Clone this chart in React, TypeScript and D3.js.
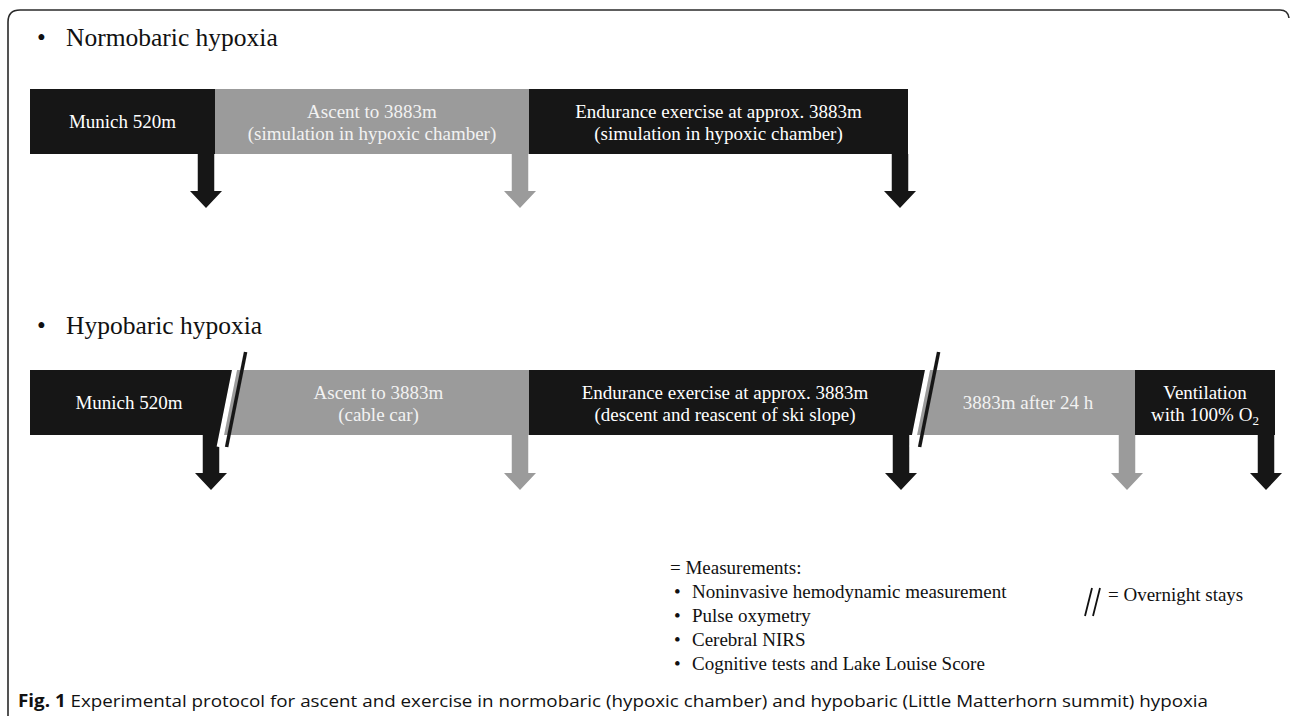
import React from "react";
import * as d3 from "d3";

const W = 1290;
const H = 716;

// Normobaric protocol (timeline units)
const normLabels = ["Munich 520m", "Ascent to 3883m", "Endurance exercise at approx. 3883m"];
const normNotes = ["", "(simulation in hypoxic chamber)", "(simulation in hypoxic chamber)"];
const normEnds = [185, 499, 878];
const normTones = ["dark", "light", "dark"];
const normBreaks: number[] = [];
const normMeasure = [176, 490, 870];
const normMeasureTones = ["dark", "light", "dark"];

// Hypobaric protocol (timeline units)
const hypoLabels = ["Munich 520m", "Ascent to 3883m", "Endurance exercise at approx. 3883m", "3883m after 24 h", "Ventilation"];
const hypoNotes = ["", "(cable car)", "(descent and reascent of ski slope)", "", "with 100% O"];
const hypoEnds = [198, 499, 891, 1105, 1245];
const hypoTones = ["dark", "light", "dark", "light", "dark"];
const hypoBreaks = [198, 891];
const hypoMeasure = [181, 490, 871, 1097, 1236];
const hypoMeasureTones = ["dark", "light", "dark", "light", "dark"];

const measurementItems = [
  "Noninvasive hemodynamic measurement",
  "Pulse oxymetry",
  "Cerebral NIRS",
  "Cognitive tests and Lake Louise Score",
];

const DARK = "#161616";
const LIGHT = "#9b9b9b";
const SERIF = "'Liberation Serif', 'Times New Roman', serif";
const SLANT = -0.2;

const x = d3.scaleLinear().domain([0, 1245]).range([30, 1275]);

function Row(props: {
  labels: string[]; notes: string[]; ends: number[]; tones: string[]; breaks: number[];
  measure: number[]; mtones: string[]; top: number; tip: number; subLast?: boolean;
}) {
  const { labels, notes, ends, tones, breaks, measure, mtones, top, tip, subLast } = props;
  const bh = 65;
  const bot = top + bh;
  const yc = top + bh / 2;
  const edge = (v: number, y: number, slanted: boolean) => x(v) + (slanted ? SLANT * (y - yc) : 0);
  const isBreak = (v: number) => breaks.includes(v);
  return (
    <g>
      {labels.map((lab, i) => {
        const s = i === 0 ? 0 : ends[i - 1];
        const e = ends[i];
        const sb = i > 0 && isBreak(s);
        const eb = isBreak(e);
        const pts = [
          [edge(s, top, sb), top], [edge(e, top, eb), top],
          [edge(e, bot, eb), bot], [edge(s, bot, sb), bot],
        ];
        const fill = tones[i] === "dark" ? DARK : LIGHT;
        const tcol = tones[i] === "dark" ? "#ffffff" : "#f2f2f2";
        const cx = (x(s) + x(e)) / 2;
        const hasNote = notes[i] !== "";
        return (
          <g key={i}>
            <polygon points={pts.map((p) => p.join(",")).join(" ")} fill={fill} />
            {hasNote ? (
              <text x={cx} textAnchor="middle" fill={tcol} fontFamily={SERIF} fontSize={19}>
                <tspan x={cx} y={yc - 4}>{lab}</tspan>
                <tspan x={cx} y={yc + 18}>
                  {notes[i]}
                  {subLast && i === labels.length - 1 ? <tspan fontSize={13} dy={4}>2</tspan> : null}
                </tspan>
              </text>
            ) : (
              <text x={cx} y={yc + 6} textAnchor="middle" fill={tcol} fontFamily={SERIF} fontSize={19}>{lab}</text>
            )}
          </g>
        );
      })}
      {measure.map((m, i) => {
        const c = x(m);
        const sw = 16.5, hw = 32, hh = 17;
        const fill = mtones[i] === "dark" ? DARK : LIGHT;
        const d = `M${c - sw / 2},${bot} L${c + sw / 2},${bot} L${c + sw / 2},${tip - hh} L${c + hw / 2},${tip - hh} L${c},${tip} L${c - hw / 2},${tip - hh} L${c - sw / 2},${tip - hh} Z`;
        return <path key={"m" + i} d={d} fill={fill} />;
      })}
      {breaks.map((b, i) => {
        const y1 = top - 18, y2 = bot + 12;
        return (
          <g key={"b" + i}>
            <line x1={edge(b, y1, true)} y1={y1} x2={edge(b, y2, true)} y2={y2} stroke="#ffffff" strokeWidth={5} />
            <line x1={edge(b, y1, true) + 7.5} y1={y1} x2={edge(b, y2, true) + 7.5} y2={y2} stroke={DARK} strokeWidth={3.5} />
          </g>
        );
      })}
    </g>
  );
}

export default function App() {
  return (
    <svg width={W} height={H} style={{ position: "absolute", left: 0, top: 0, background: "#fff" }}>
      <rect x={0} y={0} width={W} height={H} fill="#ffffff" />
      <path d="M8,720 L8,22 Q8,10 20,10 L1280,10 Q1288,10 1289,18" fill="none" stroke="#2a2a2a" strokeWidth={1.6} />

      <text x={37} y={46} fontFamily={SERIF} fontSize={25} fill="#111">•</text>
      <text x={66} y={46} fontFamily={SERIF} fontSize={25.5} fill="#111">Normobaric hypoxia</text>

      <Row labels={normLabels} notes={normNotes} ends={normEnds} tones={normTones} breaks={normBreaks}
        measure={normMeasure} mtones={normMeasureTones} top={89} tip={208} />

      <text x={37} y={334} fontFamily={SERIF} fontSize={25} fill="#111">•</text>
      <text x={66} y={334} fontFamily={SERIF} fontSize={25.5} fill="#111">Hypobaric hypoxia</text>

      <Row labels={hypoLabels} notes={hypoNotes} ends={hypoEnds} tones={hypoTones} breaks={hypoBreaks}
        measure={hypoMeasure} mtones={hypoMeasureTones} top={370} tip={490} subLast />

      <text x={670} y={574} fontFamily={SERIF} fontSize={19} fill="#111">= Measurements:</text>
      {measurementItems.map((t, i) => (
        <g key={t}>
          <text x={674} y={598 + i * 24} fontFamily={SERIF} fontSize={19} fill="#111">•</text>
          <text x={692} y={598 + i * 24} fontFamily={SERIF} fontSize={19} fill="#111">{t}</text>
        </g>
      ))}

      <line x1={1092} y1={588} x2={1085} y2={616} stroke="#111" strokeWidth={1.8} />
      <line x1={1100} y1={588} x2={1093} y2={616} stroke="#111" strokeWidth={1.8} />
      <text x={1108} y={601} fontFamily={SERIF} fontSize={19} fill="#111">= Overnight stays</text>

      <text x={18} y={707} fontFamily="'Open Sans', 'Noto Sans', sans-serif" fontSize={17} fill="#111" textLength={1190} lengthAdjust="spacingAndGlyphs">
        <tspan fontWeight="bold">Fig. 1</tspan> Experimental protocol for ascent and exercise in normobaric (hypoxic chamber) and hypobaric (Little Matterhorn summit) hypoxia
      </text>
    </svg>
  );
}
